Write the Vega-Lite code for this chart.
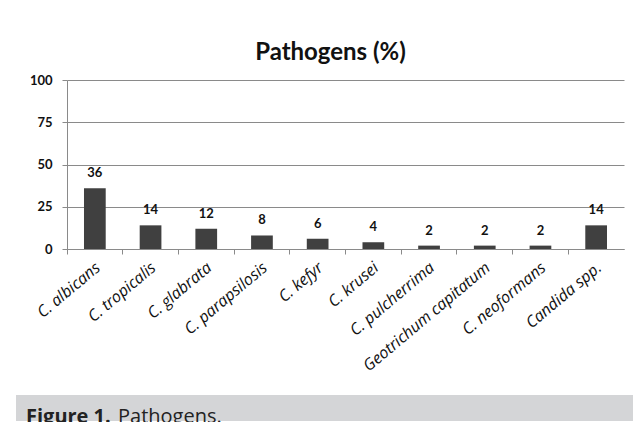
{
  "$schema": "https://vega.github.io/schema/vega-lite/v6.json",
  "padding": {"left": 16, "top": 41, "right": 0, "bottom": 0},
  "center": true,
  "bounds": "flush",
  "spacing": 146,
  "background": "white",
  "config": {"view": {"stroke": null}, "font": "Open Sans"},
  "vconcat": [
    {
      "width": 557,
      "height": 169,
      "title": {"text": "Pathogens (%)", "font": "Lato", "fontSize": 24, "fontWeight": "bold", "color": "#111111", "frame": "group", "dx": -15, "offset": 9},
      "data": {"values": [
        {"pathogen": "C. albicans", "percent": 36},
        {"pathogen": "C. tropicalis", "percent": 14},
        {"pathogen": "C. glabrata", "percent": 12},
        {"pathogen": "C. parapsilosis", "percent": 8},
        {"pathogen": "C. kefyr", "percent": 6},
        {"pathogen": "C. krusei", "percent": 4},
        {"pathogen": "C. pulcherrima", "percent": 2},
        {"pathogen": "Geotrichum capitatum", "percent": 2},
        {"pathogen": "C. neoformans", "percent": 2},
        {"pathogen": "Candida spp.", "percent": 14}
      ]},
      "encoding": {
        "x": {"field": "pathogen", "type": "nominal", "sort": null,
          "scale": {"paddingInner": 0, "paddingOuter": 0},
          "axis": {"title": null, "bandPosition": 0, "labelOffset": -2, "labelAngle": -40, "labelAlign": "right", "labelBaseline": "top", "labelFont": "Open Sans", "labelFontStyle": "italic", "labelFontSize": 16, "labelColor": "#111111", "labelPadding": 5, "domainColor": "#8a8a8a", "tickColor": "#8a8a8a", "tickSize": 5, "labelLimit": 300}},
        "y": {"field": "percent", "type": "quantitative",
          "scale": {"domain": [0, 100]},
          "axis": {"values": [0, 25, 50, 75, 100], "title": null, "labelFont": "Lato", "labelFontWeight": "bold", "labelFontSize": 13, "labelColor": "#111111", "labelPadding": 10, "tickSize": 5, "tickColor": "#8a8a8a", "domainColor": "#8a8a8a", "gridColor": "#8a8a8a", "gridOpacity": 1}}
      },
      "layer": [
        {"mark": {"type": "bar", "width": {"band": 0.39}, "color": "#404040"}},
        {"mark": {"type": "text", "baseline": "bottom", "dy": -8, "font": "Lato", "fontWeight": "bold", "fontSize": 13, "color": "#111111"},
          "encoding": {"text": {"field": "percent", "type": "quantitative"}}}
      ]
    },
    {
      "width": 659,
      "height": 26,
      "view": {"fill": "#d4d5d7", "stroke": null},
      "layer": [
        {"data": {"values": [{"caption": "Figure 1."}]},
          "mark": {"type": "text", "align": "left", "baseline": "middle", "dx": 10, "dy": 9, "font": "Open Sans", "fontWeight": "bold", "fontSize": 20, "color": "#222222"},
          "encoding": {"x": {"datum": 0, "type": "quantitative", "scale": {"domain": [0, 1]}, "axis": null}, "text": {"field": "caption"}}},
        {"data": {"values": [{"caption": "Pathogens."}]},
          "mark": {"type": "text", "align": "left", "baseline": "middle", "dx": 102, "dy": 9, "font": "Open Sans", "fontSize": 20, "color": "#222222"},
          "encoding": {"x": {"datum": 0, "type": "quantitative", "scale": {"domain": [0, 1]}, "axis": null}, "text": {"field": "caption"}}}
      ]
    }
  ]
}
